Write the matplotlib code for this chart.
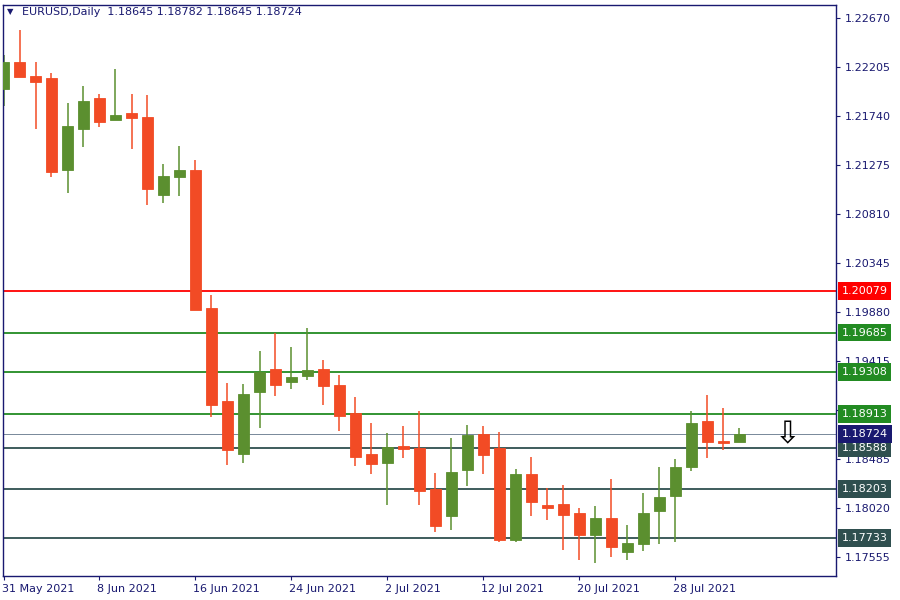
import matplotlib
matplotlib.use('Agg')
import matplotlib.pyplot as plt
import matplotlib.transforms as mtransforms

# Daily EURUSD bars (31 May - 3 Aug 2021)
opens = [1.21996, 1.22252, 1.22120, 1.22101, 1.21228, 1.21617, 1.21911, 1.21702, 1.21768, 1.21731,
         1.20990, 1.21161, 1.21228, 1.19918, 1.19035, 1.18532, 1.19121, 1.19339, 1.19216, 1.19273,
         1.19339, 1.19187, 1.18921, 1.18532, 1.18447, 1.18611, 1.18589, 1.18200, 1.17944, 1.18381,
         1.18722, 1.18589, 1.17716, 1.18343, 1.18048, 1.18058, 1.17972, 1.17764, 1.17925, 1.17602,
         1.17678, 1.17991, 1.18134, 1.18409, 1.18846, 1.18656, 1.18645]
highs = [1.22319, 1.22556, 1.22252, 1.22148, 1.21863, 1.22025, 1.21949, 1.22186, 1.21949, 1.21939,
         1.21284, 1.21455, 1.21322, 1.20041, 1.19206, 1.19196, 1.19510, 1.19681, 1.19548, 1.19728,
         1.19424, 1.19282, 1.19073, 1.18827, 1.18732, 1.18798, 1.18940, 1.18352, 1.18684, 1.18808,
         1.18798, 1.18741, 1.18390, 1.18504, 1.18210, 1.18238, 1.18020, 1.18039, 1.18295, 1.17859,
         1.18162, 1.18409, 1.18485, 1.18940, 1.19092, 1.18969, 1.18782]
lows = [1.21835, 1.22110, 1.21617, 1.21161, 1.21009, 1.21446, 1.21636, 1.21702, 1.21427, 1.20895,
        1.20914, 1.20981, 1.19899, 1.18884, 1.18428, 1.18447, 1.18779, 1.19083, 1.19149, 1.19235,
        1.18997, 1.18751, 1.18419, 1.18343, 1.18048, 1.18494, 1.18048, 1.17792, 1.17811, 1.18229,
        1.18343, 1.17697, 1.17697, 1.17944, 1.17906, 1.17621, 1.17526, 1.17498, 1.17555, 1.17526,
        1.17612, 1.17678, 1.17697, 1.18371, 1.18494, 1.18570, 1.18645]
closes = [1.22252, 1.22110, 1.22063, 1.21209, 1.21645, 1.21882, 1.21683, 1.21749, 1.21721, 1.21047,
          1.21171, 1.21228, 1.19899, 1.18997, 1.18570, 1.19102, 1.19311, 1.19187, 1.19263, 1.19330,
          1.19178, 1.18893, 1.18504, 1.18437, 1.18599, 1.18583, 1.18181, 1.17849, 1.18362, 1.18713,
          1.18523, 1.17716, 1.18343, 1.18077, 1.18020, 1.17953, 1.17764, 1.17925, 1.17650, 1.17688,
          1.17972, 1.18124, 1.18409, 1.18827, 1.18646, 1.18637, 1.18724]

date_pos = [0, 6, 12, 18, 24, 30, 36, 42]
date_labels = ['31 May 2021', '8 Jun 2021', '16 Jun 2021', '24 Jun 2021',
               '2 Jul 2021', '12 Jul 2021', '20 Jul 2021', '28 Jul 2021']

price_ticks = [1.22670, 1.22205, 1.21740, 1.21275, 1.20810, 1.20345, 1.19880,
               1.19415, 1.18950, 1.18485, 1.18020, 1.17555]

# support / resistance levels
levels = [1.20079, 1.19685, 1.19308, 1.18913, 1.18588, 1.18203, 1.17733]
level_colors = ['#FF0000', '#228B22', '#228B22', '#228B22', '#2F4F4F', '#2F4F4F', '#2F4F4F']
bid = 1.18724

navy = '#191970'
up_col = '#5B8F2F'
dn_col = '#F24B25'

fig = plt.figure(figsize=(9, 6), dpi=100)
ax = fig.add_axes([2.5 / 900, 1 - 576 / 600, (836 - 2.5) / 900, (576 - 5) / 600])

for i in range(len(opens)):
    o, h, l, c = opens[i], highs[i], lows[i], closes[i]
    col = up_col if c >= o else dn_col
    ax.vlines(i, l, h, color=col, linewidth=1.1, zorder=2)
    ax.bar(i, abs(c - o), bottom=min(o, c), width=0.69, color=col,
           edgecolor=col, linewidth=0.6, zorder=3)

for lv, lc in zip(levels, level_colors):
    ax.axhline(lv, color=lc, linewidth=1.3, zorder=1)
ax.axhline(bid, color='#778899', linewidth=0.7, zorder=1)

# hollow down arrow
ax.text(49, 1.18712, '\u21e9', fontsize=22, ha='center', va='center',
        color='black', zorder=4)

ax.set_xlim((2.5 - 3.5) / 16, (836 - 3.5) / 16)
ax.set_ylim(1.17375, 1.22793)

ax.yaxis.tick_right()
ax.set_yticks(price_ticks)
ax.set_yticklabels([f'{v:.5f}' for v in price_ticks])
ax.tick_params(axis='y', direction='out', length=3, width=0.8, pad=3,
               colors=navy, labelsize=8, labelcolor=navy)

ax.set_xticks(date_pos)
ax.set_xticklabels(date_labels, ha='left')
ax.tick_params(axis='x', direction='out', length=3, width=0.8, pad=3,
               colors=navy, labelsize=8, labelcolor=navy)
for lab in ax.get_xticklabels():
    lab.set_transform(lab.get_transform() + mtransforms.ScaledTranslation(-2 / 100, 0, fig.dpi_scale_trans))

for sp in ax.spines.values():
    sp.set_color(navy)
    sp.set_linewidth(1.0)

# price labels on the right scale
trans = mtransforms.blended_transform_factory(ax.transAxes, ax.transData)
for lv, lc in zip(levels + [bid], level_colors + [navy]):
    ax.text(1.0066, lv, f'{lv:.5f}', transform=trans, fontsize=8, color='white',
            ha='left', va='center', clip_on=False, zorder=10,
            bbox=dict(boxstyle='square,pad=0.35', facecolor=lc, edgecolor='none'))

fig.text(10 / 900, 1 - 12 / 600, '\u25bc', fontsize=6, color=navy, ha='center', va='center')
fig.text(22 / 900, 1 - 12 / 600, 'EURUSD,Daily  1.18645 1.18782 1.18645 1.18724',
         fontsize=8, color=navy, ha='left', va='center')

fig.savefig('out.png', dpi=100)
